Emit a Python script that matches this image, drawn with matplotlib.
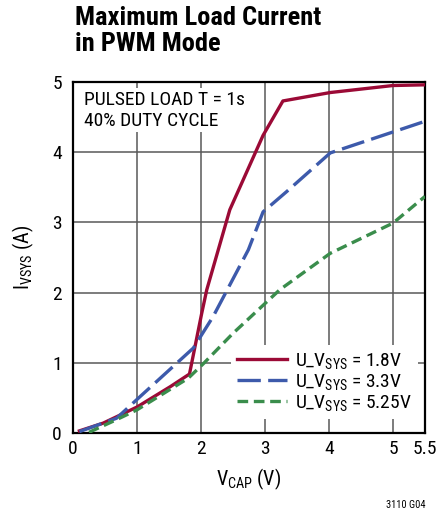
import matplotlib
matplotlib.use("Agg")
import matplotlib.pyplot as plt
from matplotlib import font_manager

names = {f.name for f in font_manager.fontManager.ttflist}
FONT = 'Liberation Sans'
for cand in ['Nimbus Sans Narrow', 'Roboto Condensed', 'Archivo Narrow', 'PT Sans Narrow',
             'Liberation Sans Narrow', 'Arimo', 'Liberation Sans']:
    if cand in names:
        FONT = cand
        break
plt.rcParams['font.family'] = [FONT, 'DejaVu Sans']
plt.rcParams['mathtext.fontset'] = 'custom'
plt.rcParams['mathtext.rm'] = FONT

# data
x_red = [0.1, 0.47, 1.0, 1.52, 1.82, 2.01, 2.09, 2.45, 2.97, 3.28, 4.02, 5.0, 5.5]
y_red = [0.03, 0.14, 0.37, 0.66, 0.84, 1.70, 2.04, 3.18, 4.24, 4.73, 4.85, 4.95, 4.96]
x_blue = [0.1, 0.68, 1.05, 1.88, 2.19, 2.74, 2.97, 3.34, 4.02, 5.5]
y_blue = [0.02, 0.21, 0.52, 1.21, 1.66, 2.61, 3.15, 3.44, 3.99, 4.44]
x_green = [0.25, 0.68, 1.0, 1.8, 2.04, 2.5, 3.23, 4.02, 5.0, 5.5]
y_green = [0.01, 0.19, 0.33, 0.78, 0.99, 1.42, 2.04, 2.56, 2.99, 3.37]
labels = [r'U_$\mathregular{V_{SYS}}$ = 1.8V', r'U_$\mathregular{V_{SYS}}$ = 3.3V',
          r'U_$\mathregular{V_{SYS}}$ = 5.25V']
xticks = [0, 1, 2, 3, 4, 5, 5.5]
xticklabels = ['0', '1', '2', '3', '4', '5', '5.5']
yticks = [0, 1, 2, 3, 4, 5]

fig = plt.figure(figsize=(4.36, 5.16), dpi=100)
ax = fig.add_axes([73/436, 1-433/516, 352/436, 351/516])

ax.plot(x_red, y_red, color='#9b0a36', lw=2.4, label=labels[0], zorder=3)
ax.plot(x_blue, y_blue, color='#3d5aab', lw=2.4, dashes=(7, 2.2), label=labels[1], zorder=3)
ax.plot(x_green, y_green, color='#3a8d4c', lw=2.4, dashes=(3.2, 1.7), label=labels[2], zorder=3)

ax.set_xlim(0, 5.5)
ax.set_ylim(0, 5)
ax.set_xticks(xticks)
ax.set_xticklabels(xticklabels)
ax.set_yticks(yticks)
ax.tick_params(axis='x', length=0, labelsize=14, pad=5)
ax.tick_params(axis='y', length=0, labelsize=14, pad=8)
ax.grid(True, color='#585858', lw=1.1)
ax.set_axisbelow(True)
for s in ax.spines.values():
    s.set_linewidth(1.6)

ax.set_xlabel(r'$\mathregular{V_{CAP}}$ (V)', fontsize=14.5, labelpad=6)
ax.set_ylabel(r'$\mathregular{I_{VSYS}}$ (A)', fontsize=14.5, labelpad=12)

ax.text(0.03, 0.975, 'PULSED LOAD T = 1s\n40% DUTY CYCLE', transform=ax.transAxes,
        fontsize=14, va='top', ha='left', linespacing=1.2,
        bbox=dict(facecolor='white', edgecolor='none', pad=2), zorder=4)

leg = ax.legend(loc='lower right', bbox_to_anchor=(0.99, 0.03), frameon=True, fontsize=14,
                handlelength=2.6, handletextpad=0.4, labelspacing=0.05, borderpad=0.3,
                borderaxespad=0.2)
leg.get_frame().set_edgecolor('none')
leg.get_frame().set_facecolor('white')
leg.get_frame().set_alpha(1)
leg.get_frame().set_boxstyle('square', pad=0)

fig.text(75/436, 1-6/516, 'Maximum Load Current\nin PWM Mode', fontsize=19, fontweight='heavy',
         va='top', ha='left', linespacing=1.1)
fig.text(425/436, 1-505/516, '3110 G04', fontsize=7.5, ha='right', va='center')

fig.savefig('out.png', dpi=100)
